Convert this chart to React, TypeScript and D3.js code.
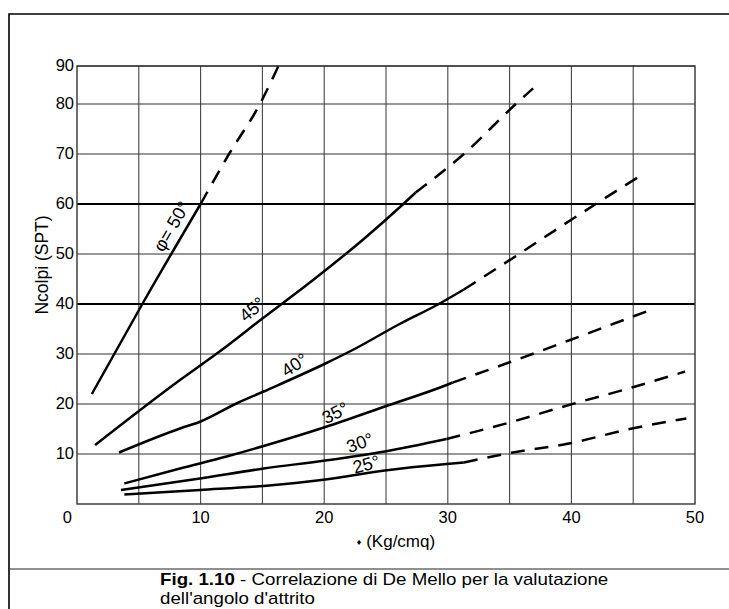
import React from "react";
import * as d3 from "d3";

// ---- data ----
const xTicks = [0, 10, 20, 30, 40, 50];
const xGrid = [5, 10, 15, 20, 25, 30, 35, 40, 45];
const yTicks = [10, 20, 30, 40, 50, 60, 70, 80, 90];
const yHeavy = [40, 60];

const phi50Solid: [number, number][] = [[1.2, 22], [5.4, 40.5], [10, 60]];
const phi50Dashed: [number, number][] = [[10, 60], [12.3, 70], [14.8, 80], [16.3, 90]];
const phi45Solid: [number, number][] = [[1.46, 11.8], [8.33, 24.8], [11.7, 30.8], [15, 37.1], [19.1, 44.8], [23.2, 53], [26.4, 60], [27.4, 62.3]];
const phi45Dashed: [number, number][] = [[27.4, 62.3], [31.3, 70], [35.5, 80], [36.9, 84.1]];
const phi40Solid: [number, number][] = [[3.4, 10.3], [8.33, 15.1], [10, 16.5], [12.9, 20.1], [15.1, 22.5], [20.1, 28.1], [22.3, 30.8], [26.1, 36], [29.2, 39.9], [31.3, 42.9]];
const phi40Dashed: [number, number][] = [[31.3, 42.9], [35.7, 49.9], [39.4, 55.9], [45.8, 66]];
const phi35Solid: [number, number][] = [[3.83, 4.1], [8.33, 7.1], [12.1, 9.5], [15.1, 11.6], [20.1, 15.4], [24.9, 19.5], [29.9, 23.8], [30.4, 24.3]];
const phi35Dashed: [number, number][] = [[30.4, 24.3], [35.3, 28.6], [39.9, 32.8], [46.5, 38.9]];
const phi30Solid: [number, number][] = [[3.56, 2.8], [9.95, 5.1], [15.1, 7.1], [20.1, 8.7], [24.9, 10.5], [29.9, 13]];
const phi30Dashed: [number, number][] = [[29.9, 13], [35, 16.3], [39.8, 19.8], [44.9, 23.3], [49.2, 26.5]];
const phi25Solid: [number, number][] = [[3.83, 1.9], [9.95, 2.8], [15.1, 3.6], [20.1, 4.9], [24.9, 6.7], [29.9, 8.0], [31.3, 8.3]];
const phi25Dashed: [number, number][] = [[31.3, 8.3], [34.8, 10.1], [39.8, 12.1], [44.9, 15.1], [49.3, 17.1]];

const solidCurves = [phi50Solid, phi45Solid, phi40Solid, phi35Solid, phi30Solid, phi25Solid];
const dashedCurves = [phi50Dashed, phi45Dashed, phi40Dashed, phi35Dashed, phi30Dashed, phi25Dashed];

const labelText = ["φ= 50°", "45°", "40°", "35°", "30°", "25°"];
const labelX = [7.66, 14.18, 17.6, 20.9, 22.9, 23.4];
const labelY = [55.5, 38.9, 27.8, 18.2, 12.2, 7.9];
const labelAngle = [-60, -40, -33, -27, -20, -15];

export default function App() {
  const x = d3.scaleLinear().domain([0, 50]).range([77, 695]);
  const y = d3.scaleLinear().domain([0, 80, 90]).range([504, 104, 66]);
  const line = d3
    .line<[number, number]>()
    .x((d) => x(d[0]))
    .y((d) => y(d[1]))
    .curve(d3.curveMonotoneX);
  const font = "'Liberation Sans', Arial, sans-serif";

  return (
    <svg
      width={729}
      height={609}
      style={{ position: "absolute", left: 0, top: 0, background: "#fff" }}
      fontFamily={font}
    >
      <rect x={0} y={0} width={729} height={609} fill="#fff" />
      {/* outer frame */}
      <path d="M740,14 H9 V620" fill="none" stroke="#000" strokeWidth={1.6} />
      <line x1={9} x2={740} y1={569} y2={569} stroke="#222" strokeWidth={1.2} />

      {/* grid */}
      {xGrid.map((v) => (
        <line key={"gx" + v} x1={x(v)} x2={x(v)} y1={y(0)} y2={y(90)} stroke="#444" strokeWidth={1.1} />
      ))}
      {yTicks.map((v) => (
        <line
          key={"gy" + v}
          x1={x(0)}
          x2={x(50)}
          y1={y(v)}
          y2={y(v)}
          stroke={yHeavy.includes(v) ? "#000" : "#333"}
          strokeWidth={yHeavy.includes(v) ? 1.8 : 1.1}
        />
      ))}
      <rect x={x(0)} y={y(90)} width={x(50) - x(0)} height={y(0) - y(90)} fill="none" stroke="#333" strokeWidth={1.4} />

      {/* curves */}
      {solidCurves.map((c, i) => (
        <path key={"s" + i} d={line(c) || ""} fill="none" stroke="#000" strokeWidth={2.5} />
      ))}
      {dashedCurves.map((c, i) => (
        <path key={"d" + i} d={line(c) || ""} fill="none" stroke="#000" strokeWidth={2.5} strokeDasharray="14,10" />
      ))}

      {/* curve labels */}
      {labelText.map((t, i) => (
        <text
          key={"l" + i}
          transform={`translate(${x(labelX[i])},${y(labelY[i])}) rotate(${labelAngle[i]})`}
          textAnchor="middle"
          dominantBaseline="central"
          fontSize={18}
          fill="#000"
        >
          {t}
        </text>
      ))}

      {/* y tick labels */}
      {yTicks.map((v) => (
        <text key={"yt" + v} x={74} y={y(v) + 5} textAnchor="end" fontSize={16.5} fill="#000">
          {v}
        </text>
      ))}
      <text x={72} y={523} textAnchor="end" fontSize={16.5}>0</text>
      {/* x tick labels */}
      {xTicks.filter((v) => v > 0).map((v) => (
        <text key={"xt" + v} x={x(v)} y={523} textAnchor="middle" fontSize={16.5} fill="#000">
          {v}
        </text>
      ))}

      {/* axis titles */}
      <text x={396} y={547} textAnchor="middle" fontSize={17}>
        <tspan fontSize={9} dy={-2}>♦</tspan>
        <tspan dy={2}> (Kg/cmq)</tspan>
      </text>
      <text transform="translate(48,265) rotate(-90)" textAnchor="middle" fontSize={17.5}>
        Ncolpi (SPT)
      </text>

      {/* caption */}
      <g transform="translate(160,0) scale(1.17,1)">
        <text x={0} y={585.5} fontSize={16}>
          <tspan fontWeight="bold">Fig. 1.10</tspan>
          <tspan> - Correlazione di De Mello per la valutazione</tspan>
        </text>
        <text x={0} y={604} fontSize={16}>dell'angolo d'attrito</text>
      </g>
    </svg>
  );
}
